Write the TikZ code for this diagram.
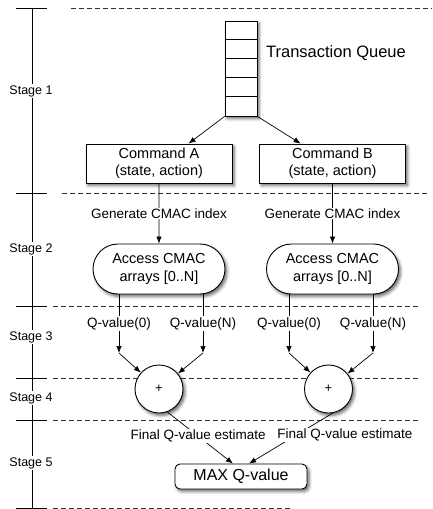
\documentclass[tikz,border=0pt]{standalone}
\usepackage{fontspec}
\setmainfont{Liberation Sans}
\usetikzlibrary{arrows.meta,shapes.misc,shadows.blur,calc}
\tikzset{
  shade3d/.style={blur shadow={shadow xshift=2pt,shadow yshift=-2.5pt,shadow opacity=60,shadow blur radius=3pt}},
  cmdbox/.style={draw,fill=white,line width=.9pt,shade3d,minimum width=146pt,minimum height=39pt,inner sep=0pt,align=center,font=\fontsize{14.5}{17}\selectfont},
  accbox/.style={rounded rectangle,draw,fill=white,line width=.9pt,shade3d,minimum width=132pt,minimum height=50pt,inner sep=0pt,align=center,font=\fontsize{14.5}{18}\selectfont},
  sumnode/.style={circle,draw,fill=white,line width=.9pt,shade3d,minimum size=48pt,inner sep=0pt,font=\fontsize{13}{15}\selectfont},
  maxbox/.style={draw,fill=white,rounded corners=5pt,line width=.9pt,shade3d,minimum width=132pt,minimum height=25pt,inner sep=0pt,font=\fontsize{16}{19}\selectfont},
  lbl/.style={fill=white,inner sep=1pt,font=\fontsize{13.5}{16}\selectfont},
  stagelbl/.style={fill=white,inner sep=1pt,font=\fontsize{12.5}{15}\selectfont},
  sep/.style={dash pattern=on 5pt off 3pt,line width=.7pt,black!80}
}
\begin{document}
\begin{tikzpicture}[x=1pt,y=-1pt,>={Latex[length=7pt,width=5.5pt]},line width=.7pt]
\useasboundingbox (0,0) rectangle (432,509);
% stages
\draw (32,8) -- (32,509);
\foreach \y in {8,193,306,378,420,508}
  \draw (16,\y) -- (47,\y);
\foreach \t/\y in {1/91,2/249,3/337,4/398,5/463}
  \node[stagelbl] (stage\t) at (31,\y) {Stage \t};
\foreach \xa/\y/\xb in {71/8/432,62/193/429,53/306/419,53/378/418,53/420/418,53/508/293}
  \draw[sep] (\xa,\y) -- (\xb,\y);
% queue
\node[draw,fill=white,line width=.9pt,shade3d,minimum width=32pt,minimum height=95pt,inner sep=0pt] (queue) at (241,68.5) {};
\foreach \i in {1,...,4}
  \draw[line width=.9pt] ($(queue.north west)+(0,19*\i)$) -- ++(32,0);
\node[font=\fontsize{16.5}{19}\selectfont] (qname) at (336,53) {Transaction Queue};
% commands
\node[cmdbox] (cmdA) at (159,163.5) {Command A\\(state, action)};
\node[cmdbox] (cmdB) at (332.5,163.5) {Command B\\(state, action)};
\draw[->] (queue.south west) -- (cmdA.34);
\draw[->] (queue.south east) -- (cmdB.148);
% CMAC arrays
\node[accbox] (accA) at (159,269) {Access CMAC\\arrays [0..N]};
\node[accbox] (accB) at (332.5,269) {Access CMAC\\arrays [0..N]};
\draw[->] (cmdA) -- (accA) node[midway,lbl]{Generate CMAC index};
\draw[->] (cmdB) -- (accB) node[midway,lbl]{Generate CMAC index};
% Q-values
\coordinate (qA0) at (119,353);
\coordinate (qAN) at (203,353);
\coordinate (qB0) at (289,353);
\coordinate (qBN) at (373,353);
\draw[->] (accA.south -| qA0) -- (qA0) node[midway,lbl]{Q-value(0)};
\draw[->] (accA.south -| qAN) -- (qAN) node[midway,lbl]{Q-value(N)};
\draw[->] (accB.south -| qB0) -- (qB0) node[midway,lbl]{Q-value(0)};
\draw[->] (accB.south -| qBN) -- (qBN) node[midway,lbl]{Q-value(N)};
% sums
\node[sumnode] (sumA) at (159,389) {+};
\node[sumnode] (sumB) at (328.5,389) {+};
\draw[->] (qA0) -- (sumA);
\draw[->] (qAN) -- (sumA);
\draw[->] (qB0) -- (sumB);
\draw[->] (qBN) -- (sumB);
% max
\node[maxbox] (maxq) at (241,476.5) {MAX Q-value};
\draw[->] (sumA.290) -- (maxq.122) node[pos=.47,lbl]{Final Q-value estimate};
\draw[->] (sumB.280) -- (maxq.58) node[pos=.44,lbl,xshift=49pt]{Final Q-value estimate};
\end{tikzpicture}
\end{document}
